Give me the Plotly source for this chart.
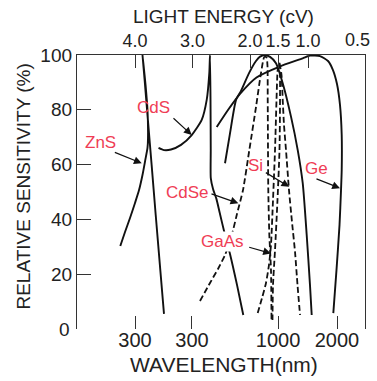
import plotly.graph_objects as go

# x: photon energy (eV, linear, reversed); y: relative sensitivity (%)
zns_x = [4.256, 4.174, 4.087, 4.0, 3.930, 3.870, 3.821, 3.783, 3.774, 3.783, 3.817, 3.852, 3.870,
         3.833, 3.776, 3.711, 3.640, 3.560, 3.496]
zns_y = [30.3, 35.4, 40.5, 46.0, 50.7, 56.2, 61.7, 66.1, 69.7, 79.9, 89.1, 96.4, 100,
         90.9, 76.3, 59.9, 41.6, 21.5, 5.5]

cds_x = [3.591, 3.496, 3.374, 3.200, 3.014, 2.840, 2.753, 2.708, 2.696, 2.687, 2.683, 2.682,
         2.643, 2.583, 2.530, 2.435, 2.348, 2.226, 2.117]
cds_y = [66.1, 65.3, 65.5, 67.2, 70.8, 76.3, 83.6, 93.4, 100, 83.6, 65.3, 55.1,
         51.1, 47.4, 42.7, 34.3, 27.4, 16.1, 5.1]

mid_x = [2.435, 2.348, 2.243, 2.157, 2.017, 1.896, 1.826, 1.748, 1.652, 1.548, 1.431, 1.287,
         1.170, 1.083, 1.014, 0.957, 0.927]
mid_y = [60.5, 71.4, 83.6, 86.9, 93.4, 97.8, 99.4, 100, 99.3, 97.0, 89.7, 77.5,
         65.3, 53.2, 34.3, 16.1, 5.1]

ge_x = [2.579, 2.383, 2.174, 1.887, 1.496, 1.083, 0.957, 0.783, 0.643, 0.557, 0.487, 0.435,
        0.405, 0.405, 0.417, 0.443, 0.496, 0.551]
ge_y = [73.7, 79.9, 85.8, 91.8, 95.7, 98.8, 99.8, 99.6, 97.8, 94.5, 89.4, 81.8,
        70.8, 58.0, 50.7, 38.0, 21.5, 5.8]

cdse_x = [2.870, 2.696, 2.557, 2.435, 2.330, 2.231, 2.122, 2.012, 1.896, 1.809, 1.751, 1.713,
          1.696, 1.692, 1.687, 1.682, 1.664, 1.635, 1.626]
cdse_y = [10.2, 16.8, 21.9, 27.0, 33.2, 41.6, 50.7, 65.3, 81.0, 93.4, 99.3, 99.1,
          96.0, 83.6, 65.3, 50.7, 34.3, 21.5, 3.3]

gaas_x = [1.866, 1.791, 1.722, 1.670, 1.635, 1.600, 1.565, 1.539, 1.522, 1.501, 1.482, 1.478,
          1.487, 1.522, 1.565, 1.600, 1.609]
gaas_y = [5.8, 11.3, 16.8, 23.4, 30.7, 47.1, 65.3, 83.6, 93.8, 97.1, 95.3, 83.6,
          65.3, 47.1, 28.8, 16.1, 3.3]

si_x = [1.487, 1.452, 1.431, 1.409, 1.374, 1.322, 1.270, 1.217, 1.174, 1.130]
si_y = [97.1, 92.7, 83.6, 74.5, 65.3, 50.7, 39.1, 28.1, 16.1, 5.1]

# labels: name, text position (x, y), arrow tail (x, y), arrow head (x, y)
label_names = ["CdS", "ZnS", "CdSe", "GaAs", "Si", "Ge"]
label_pos = [(3.670, 81.0), (4.609, 68.2), (3.087, 50.0), (2.470, 32.1), (1.896, 59.5), (0.835, 58.4)]
arrow_tail = [(3.357, 77.4), (4.377, 64.7), (2.696, 49.5), (2.040, 30.0), (1.751, 57.4), (0.870, 55.0)]
arrow_head = [(3.014, 70.8), (3.883, 60.5), (2.203, 45.9), (1.635, 27.6), (1.317, 51.9), (0.435, 51.4)]
label_masks = [False, False, True, True, False, False]

# axes
x_range = [5.009, 0.0]
bottom_tickvals = [4.0, 3.009, 1.513, 0.487]
bottom_ticktext = ["300", "300", "1000", "2000"]
top_tickvals = [4.0, 3.0, 2.0, 1.513, 0.991, 0.122]
top_ticktext = ["4.0", "3.0", "2.0", "1.5", "1.0", "0.5"]
y_tickvals = [0, 20, 40, 60, 80, 100]
y_ticktext = ["0", "20", "40", "60", "80", "100"]

FONT = "Liberation Sans, Arial, Helvetica, sans-serif"
TXT = "#222222"
RED = "#ef3d55"
LINE = "#111111"

fig = go.Figure()
solid = [(zns_x, zns_y), (cds_x, cds_y), (mid_x, mid_y), (ge_x, ge_y)]
dashed = [(cdse_x, cdse_y), (gaas_x, gaas_y), (si_x, si_y)]
for xs, ys in solid:
    fig.add_trace(go.Scatter(x=xs, y=ys, mode="lines", showlegend=False, hoverinfo="skip",
                             line=dict(color=LINE, width=1.9, shape="spline", smoothing=0.6)))
for xs, ys in dashed:
    fig.add_trace(go.Scatter(x=xs, y=ys, mode="lines", showlegend=False, hoverinfo="skip",
                             line=dict(color=LINE, width=1.8, dash="6px,3px", shape="spline", smoothing=0.6)))
# dummy trace to show the top axis
fig.add_trace(go.Scatter(x=[x_range[1]], y=[None], xaxis="x2", showlegend=False, hoverinfo="skip"))

annotations = []
for name, (tx, ty), (ax_, ay_), (hx, hy), mask in zip(label_names, label_pos, arrow_tail,
                                                      arrow_head, label_masks):
    annotations.append(dict(x=tx, y=ty, xref="x", yref="y", text=name, showarrow=False,
                            xanchor="center", yanchor="middle",
                            bgcolor="white" if mask else "rgba(0,0,0,0)", borderpad=0,
                            font=dict(family=FONT, size=17, color=RED)))
    annotations.append(dict(x=hx, y=hy, xref="x", yref="y", ax=ax_, ay=ay_, axref="x", ayref="y",
                            text="", showarrow=True, arrowhead=2, arrowsize=1.3, arrowwidth=1.2,
                            arrowcolor=LINE))

# "0" y label (no tick drawn at 0) and "0.5" top label (sits beside the frame)
annotations.append(dict(x=-0.017, y=y_tickvals[0], xref="paper", yref="y", xanchor="right",
                        yanchor="middle", text=y_ticktext[0], showarrow=False,
                        font=dict(family=FONT, size=19, color=TXT)))
annotations.append(dict(x=top_tickvals[-1], y=1.0, xref="x", yref="paper", xanchor="center",
                        yanchor="bottom", yshift=3,
                        text=top_ticktext[-1], showarrow=False, font=dict(family=FONT, size=18, color=TXT)))
# axis titles
annotations.append(dict(x=0.51, y=1.139, xref="paper", yref="paper", text="LIGHT ENERGY (cV)",
                        xanchor="center", yanchor="middle",
                        showarrow=False, font=dict(family=FONT, size=19, color=TXT)))
annotations.append(dict(x=0.51, y=-0.131, xref="paper", yref="paper", text="WAVELENGTH(nm)",
                        xanchor="center", yanchor="middle",
                        showarrow=False, font=dict(family=FONT, size=21, color=TXT)))
annotations.append(dict(x=-0.184, y=0.52, xref="paper", yref="paper", text="RELATIVE SENSITIVITY (%)",
                        xanchor="center", yanchor="middle",
                        textangle=-90, showarrow=False, font=dict(family=FONT, size=19, color=TXT)))

fig.update_layout(
    width=377, height=381,
    margin=dict(l=77, r=12, t=55, b=52),
    paper_bgcolor="white", plot_bgcolor="white",
    annotations=annotations,
    xaxis=dict(range=x_range, tickmode="array", tickvals=bottom_tickvals, ticktext=bottom_ticktext,
               ticks="inside", ticklen=13, tickwidth=1.3, tickcolor="#333", showline=False,
               tickangle=0, ticklabelstandoff=-3,
               showgrid=False, zeroline=False, tickfont=dict(family=FONT, size=20, color=TXT)),
    xaxis2=dict(range=x_range, overlaying="x", side="top", tickmode="array",
                tickvals=top_tickvals[:-1], ticktext=top_ticktext[:-1],
                ticks="inside", ticklen=13, tickwidth=1.3, tickcolor="#333",
                showline=True, linecolor="#333", linewidth=1.3, tickangle=0,
                showgrid=False, zeroline=False, tickfont=dict(family=FONT, size=18, color=TXT)),
    yaxis=dict(range=[0, 100], tickmode="array", tickvals=y_tickvals[1:], ticktext=y_ticktext[1:],
               ticks="inside", ticklen=14, tickwidth=1.3, tickcolor="#333",
               showline=True, mirror=True, linecolor="#333", linewidth=1.3,
               showgrid=False, zeroline=False, tickfont=dict(family=FONT, size=19, color=TXT)),
)
fig.write_html("out.html")
